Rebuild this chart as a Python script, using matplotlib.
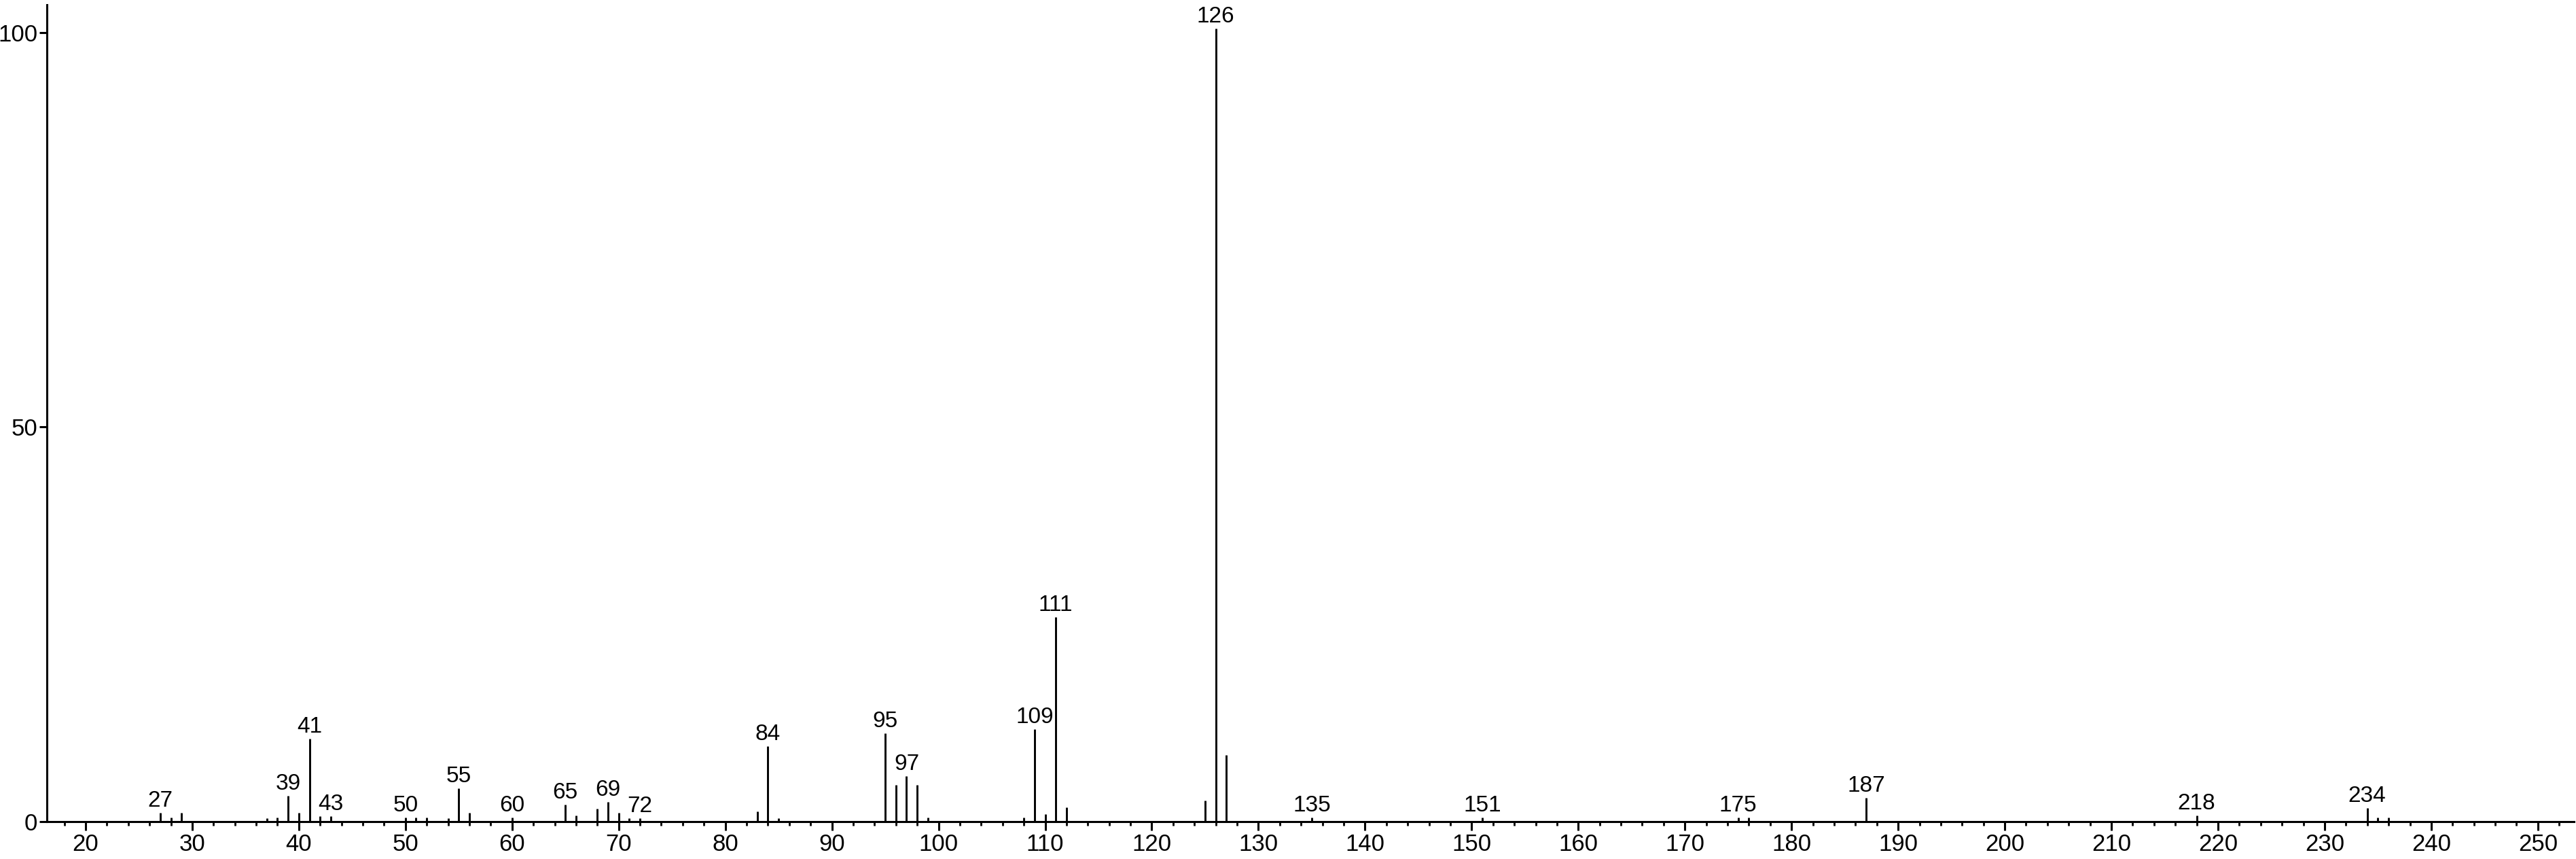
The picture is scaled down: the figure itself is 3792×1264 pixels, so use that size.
import numpy as np
import matplotlib.pyplot as plt
from matplotlib.ticker import MultipleLocator

plt.rcParams['font.family'] = ['Liberation Sans', 'DejaVu Sans']

# picos del espectro de masas (m/z, intensidad relativa)
mz = [27, 28, 29, 37, 38, 39, 40, 41, 42, 43,
      50, 51, 52, 54, 55, 56, 60, 65, 66, 68,
      69, 70, 71, 72, 83, 84, 85, 95, 96, 97,
      98, 99, 108, 109, 110, 111, 112, 125, 126, 127,
      135, 151, 175, 176, 187, 218, 234, 235, 236]
intensidad = [1.1, 0.5, 1.1, 0.45, 0.5, 3.3, 1.1, 10.5, 0.7, 0.7,
              0.5, 0.5, 0.5, 0.45, 4.2, 1.1, 0.5, 2.2, 0.8, 1.65,
              2.5, 1.1, 0.45, 0.45, 1.35, 9.6, 0.45, 11.2, 4.7, 5.8,
              4.7, 0.5, 0.5, 11.7, 1.0, 25.9, 1.85, 2.65, 100.5, 8.5,
              0.5, 0.5, 0.5, 0.5, 3.0, 0.8, 1.75, 0.55, 0.5]

# picos con etiqueta
etiquetas = [27, 39, 41, 43, 50, 55, 60, 65, 69, 72, 84, 95, 97,
             109, 111, 126, 135, 151, 175, 187, 218, 234]

fig = plt.figure(figsize=(37.92, 12.64), dpi=100)
ax = fig.add_axes([0.01827, 0.0433, 0.981, 0.9512])

ax.vlines(mz, 0, intensidad, color='black', lw=2.1)

alturas = dict(zip(mz, intensidad))
for m in etiquetas:
    ax.annotate(str(m), (m, alturas[m]), xytext=(0, 1.5), textcoords='offset points',
                ha='center', va='bottom', fontsize=24)

ax.set_xlim(16.39, 253.4)
ax.set_ylim(0, 103.5)

ax.xaxis.set_major_locator(MultipleLocator(10))
ax.xaxis.set_minor_locator(MultipleLocator(2))
ax.set_yticks([0, 50, 100])

ax.spines['top'].set_visible(False)
ax.spines['right'].set_visible(False)
ax.spines['left'].set_linewidth(2.2)
ax.spines['bottom'].set_linewidth(2.2)

ax.tick_params(axis='x', which='major', length=9, width=2.2, labelsize=25, pad=3)
ax.tick_params(axis='x', which='minor', length=4, width=2.0)
ax.tick_params(axis='y', which='major', length=8, width=2.2, labelsize=25, pad=2)

fig.savefig('out.png', dpi=100)
